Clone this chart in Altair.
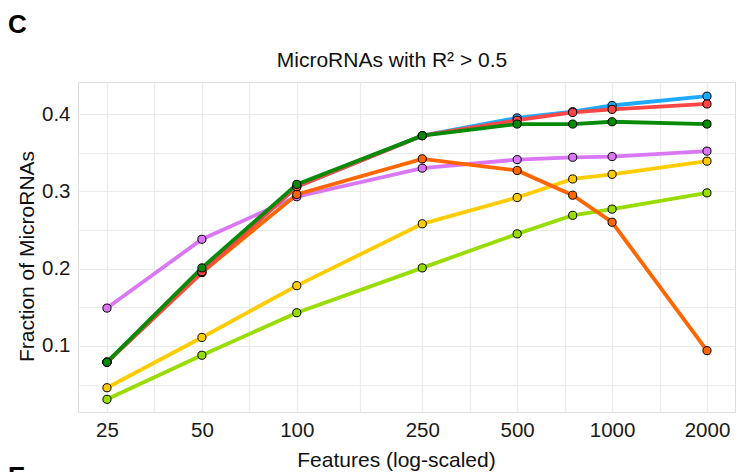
import altair as alt
import pandas as pd

# ---- data ----
features = [25, 50, 100, 250, 500, 750, 1000, 2000]

series_order = ["yellowgreen", "yellow", "purple", "blue", "orange", "red", "green"]
yellowgreen = [0.031, 0.088, 0.143, 0.201, 0.245, 0.269, 0.277, 0.298]
yellow = [0.046, 0.111, 0.178, 0.258, 0.292, 0.316, 0.322, 0.339]
purple = [0.149, 0.238, 0.293, 0.330, 0.341, 0.344, 0.345, 0.352]
blue = [0.079, 0.195, 0.306, 0.372, 0.395, 0.403, 0.411, 0.423]
orange = [0.079, 0.195, 0.296, 0.342, 0.327, 0.295, 0.260, 0.094]
red = [0.079, 0.196, 0.306, 0.372, 0.392, 0.402, 0.406, 0.413]
green = [0.079, 0.201, 0.309, 0.372, 0.387, 0.387, 0.390, 0.387]

series_values = {
    "yellowgreen": yellowgreen, "yellow": yellow, "purple": purple,
    "blue": blue, "orange": orange, "red": red, "green": green,
}
series_colors = {
    "yellowgreen": "#99DD00", "yellow": "#FFCC00", "purple": "#DA77F5",
    "blue": "#1EAAFF", "orange": "#FF6600", "red": "#FF4646", "green": "#078A07",
}

x_major = [25, 50, 100, 250, 500, 1000, 2000]
x_minor = [35.36, 70.71, 158.1, 353.6, 707.1, 1414.2]
y_ticks = [0.05, 0.1, 0.15, 0.2, 0.25, 0.3, 0.35, 0.4]
y_labels = ["0.1", "0.2", "0.3", "0.4"]

panel_labels = ["C", "E"]
title_text = ["MicroRNAs with R\u00b2 > 0.5"]
x_title = "Features (log-scaled)"
y_title = "Fraction of MicroRNAs"

FONT = "Liberation Sans"
W, H = 657, 330

x_enc = alt.X(
    "features:Q",
    scale=alt.Scale(type="log", domain=[20.23, 2454], nice=False),
    axis=alt.Axis(
        values=x_major + x_minor,
        format="d",
        labelExpr="indexof([" + ",".join(str(v) for v in x_major) + "], datum.value) >= 0 ? datum.label : ''",
        ticks=False, domain=False, grid=True,
        gridColor="#EBEBEB", gridWidth=1.2,
        labelFont=FONT, labelFontSize=20.5, labelColor="#1a1a1a",
        labelPadding=8, labelOverlap=False, labelFlush=False,
        title=x_title, titleFont=FONT, titleFontSize=21,
        titleFontWeight="normal", titleColor="#111",
        titleX=318, titleY=37, titleAlign="center", titleBaseline="top", titleAngle=0,
    ),
)
y_enc = alt.Y(
    "value:Q",
    scale=alt.Scale(domain=[0.0146, 0.4414], nice=False, zero=False),
    axis=alt.Axis(
        values=y_ticks,
        format=".2~f",
        labelExpr="indexof([" + ",".join("'" + s + "'" for s in y_labels) + "], datum.label) >= 0 ? datum.label : ''",
        ticks=False, domain=False, grid=True,
        gridColor="#EBEBEB", gridWidth=1.2,
        labelFont=FONT, labelFontSize=20.5, labelColor="#1a1a1a",
        labelPadding=8, labelOverlap=False,
        title=y_title, titleFont=FONT, titleFontSize=21,
        titleFontWeight="normal", titleColor="#111",
        titleX=-45, titleY=174, titleAlign="center", titleBaseline="alphabetic", titleAngle=270,
    ),
)

def series_df(name):
    return pd.DataFrame({"features": features, "value": series_values[name], "series": name})

line_layers = []
point_layers = []
for name in series_order:
    d = series_df(name)
    col = series_colors[name]
    line_layers.append(
        alt.Chart(d).mark_line(color=col, strokeWidth=3.8).encode(x=x_enc, y=y_enc)
    )
    point_layers.append(
        alt.Chart(d).mark_point(filled=True, fill=col, stroke="black", strokeWidth=1,
                                size=66, opacity=1).encode(x=x_enc, y=y_enc)
    )

lab_c = alt.Chart(pd.DataFrame({"t": [panel_labels[0]]})).mark_text(
    font=FONT, fontSize=26, fontWeight="bold", align="left", baseline="alphabetic", color="black"
).encode(text="t:N", x=alt.value(-70), y=alt.value(-49))
lab_e = alt.Chart(pd.DataFrame({"t": [panel_labels[1]]})).mark_text(
    font=FONT, fontSize=26, fontWeight="bold", align="left", baseline="alphabetic", color="black"
).encode(text="t:N", x=alt.value(-70), y=alt.value(403))
lab_title = alt.Chart(pd.DataFrame({"t": title_text})).mark_text(
    font=FONT, fontSize=21, fontWeight="normal", align="center", baseline="alphabetic", color="#111"
).encode(text="t:N", x=alt.value(314), y=alt.value(-15))

chart = alt.layer(*line_layers, *point_layers, lab_c, lab_e, lab_title).properties(
    width=W, height=H,
    autosize=alt.AutoSizeParams(type="none"),
    padding={"left": 78, "top": 82, "right": 2, "bottom": 60},
).configure_view(
    stroke="#444444", strokeWidth=2.6, cornerRadius=4
).configure(background="white")

chart.save("out.html", embed_options={"renderer": "svg", "actions": False})
